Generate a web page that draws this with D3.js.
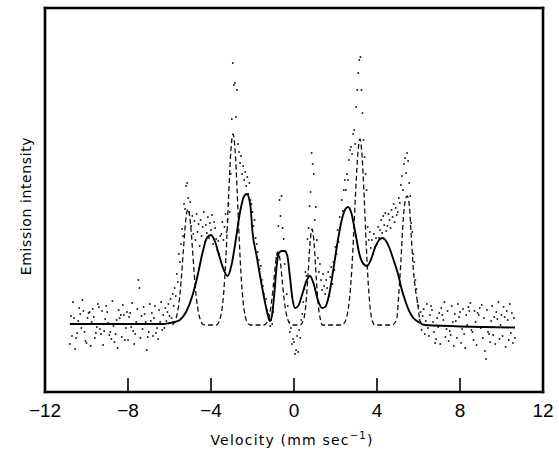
<!DOCTYPE html>
<html>
<head>
<meta charset="utf-8">
<script src="https://cdn.jsdelivr.net/npm/d3@7"></script>
<style>
body { margin: 0; background: #fff; }
svg { display: block; }
</style>
</head>
<body>
<div id="chart"></div>
<script>
// channel velocities: start + i * step (mm/s)
const channelStart = -10.8
const channelStep = 0.05

// measured emission counts per channel (relative to baseline)
const counts = [
  -20, 8, -12, 22, 6, -25, -14, -9, 3, 16,
  10, -4, 24, 13, -8, -17, -19, 6, 11, 12,
  -22, 2, 15, 7, -14, -9, -3, 20, 17, -5,
  -10, 13, -21, -7, 5, 18, 12, 1, -11, -8,
  -15, 23, -2, -18, -10, 4, -24, 14, 6, 9,
  -13, 19, 9, -16, -4, 12, -16, 7, 11, -3,
  21, -7, -20, -10, 2, 15, 44, 36, -14, 8,
  -5, 17, 10, 2, -26, -13, -8, 20, 3, 11,
  -12, 6, 18, -9, -4, -15, 14, 2, 22, -6,
  9, -4, 16, 3, 12, 20, 8,
  25, 6, 30, 18, 36, 28, 50, 42, 70,
  62, 80, 95, 88, 120, 115, 138, 141, 126, 112,
  122, 98, 108, 90, 103, 84, 110, 92, 100, 78,
  104, 88, 97, 112, 82, 99, 91, 107, 86, 101,
  94, 109, 80, 102, 96, 85, 74, 83, 70, 88,
  90, 102, 84, 97, 110, 92, 104, 120, 112, 150,
  205, 261, 239, 241, 207, 234, 180, 172, 161, 168,
  150, 158, 144, 152, 138, 147, 130, 141, 124, 120,
  112, 98, 104, 86, 80, 72, 64, 55, 58, 44,
  38, 30, 22, 25, 14, 10, 6, -2, 4, 0,
  12, 28, 40, 66, 70, 98, 124, 108, 128, 96,
  85, 60, 72, 30, 18, 2, -8, -4, -20, -15,
  -18, -30, -26, -12, -28, -6, -14, 4, 10, 22,
  35, 52, 48, 85, 96, 118, 132, 171, 160, 150,
  104, 117, 84, 66, 52, 60, 44, 34, 50, 38,
  30, 44, 36, 52, 28, 47, 57, 40, 62, 54,
  77, 70, 94, 82, 107, 100, 124, 113, 134, 144,
  134, 150, 144, 164, 174, 177, 170, 190, 194, 180,
  217, 234, 251, 264, 267, 234, 211, 184, 167, 150,
  134, 97, 84, 92, 76, 84, 70, 90, 77, 86,
  80, 97, 86, 94, 104, 91, 108, 99, 111, 93,
  98, 110, 104, 96, 114, 107, 120, 102, 116, 109,
  112, 126, 121, 139, 148, 134, 160, 166, 151, 171,
  163, 141, 128, 101, 92, 70, 62, 44, 35, 22,
  18, 4, 12, -6, 8, 15, -10, 3, 20, -4,
  -12, 9, 18, 14, 2, -8, -19, -15, 6, -3,
  11, -20, 16, 9, 4, 22, -13, -5, 13, -17,
  -7, -11, 18, 2, -22, 10, 3, -14, 20, 7,
  12, -19, -5, 15, -10, -24, 9, -1, 17, 13,
  21, -6, -8, -16, 13, 2, -21, 11, 9, 16,
  -4, 19, -14, 6, -27, -35, 14, -8, -10, -18,
  3, 18, -11, 7, -20, 12, 5, 22, -15, -1,
  9, -12, 17, 7, -23, 13, 4, -16, 20, -9,
  11, -19, 6, -14
]

// fitted spectrum [velocity, intensity]
const fitCurve = [
  [-10.8, 0], [-6.3, 0], [-6.0, 1], [-5.75, 2], [-5.5, 4], [-5.2, 12], [-4.9, 28],
  [-4.65, 48], [-4.4, 72], [-4.2, 86], [-4.0, 89], [-3.8, 82], [-3.6, 68], [-3.4, 55],
  [-3.2, 48], [-3.0, 60], [-2.8, 85], [-2.6, 112], [-2.4, 128], [-2.27, 130], [-2.1, 118],
  [-2.0, 92], [-1.8, 68], [-1.6, 44], [-1.4, 22], [-1.25, 8], [-1.16, 3], [-1.05, 10],
  [-0.95, 30], [-0.85, 55], [-0.75, 70], [-0.6, 73], [-0.45, 73], [-0.32, 68], [-0.2, 48],
  [-0.08, 26], [0.05, 16], [0.2, 18], [0.4, 30], [0.6, 43], [0.77, 48], [0.95, 40],
  [1.15, 24], [1.35, 16], [1.5, 17], [1.7, 30], [1.9, 55], [2.1, 82], [2.3, 104],
  [2.45, 114], [2.6, 117], [2.75, 112], [2.95, 92], [3.15, 70], [3.35, 60], [3.52, 58],
  [3.7, 64], [3.9, 76], [4.1, 84], [4.25, 86], [4.4, 84], [4.6, 76], [4.8, 64],
  [5.0, 51], [5.2, 34], [5.35, 24], [5.55, 13], [5.75, 6], [6.0, 2], [6.3, -1], [10.65, -3.5]
]

// single-site component lines [velocity, intensity]
const componentCurve = [
  [-5.85, -1], [-5.71, 4], [-5.61, 12], [-5.51, 27], [-5.41, 51], [-5.31, 80], [-5.21, 105],
  [-5.11, 115], [-5.01, 105], [-4.91, 80], [-4.81, 51], [-4.71, 27], [-4.61, 12], [-4.51, 4],
  [-4.41, 0], [-4.3, -1],
  [-3.75, -1], [-3.64, 1], [-3.54, 7], [-3.44, 20], [-3.34, 45], [-3.24, 85], [-3.14, 133],
  [-3.04, 174], [-2.94, 190], [-2.84, 174], [-2.74, 133], [-2.64, 85], [-2.54, 45],
  [-2.44, 20], [-2.34, 7], [-2.24, 1], [-2.1, -1],
  [-1.45, -1], [-1.37, 0], [-1.27, 3], [-1.17, 10], [-1.07, 24], [-0.97, 44], [-0.87, 64],
  [-0.77, 72], [-0.67, 64], [-0.57, 44], [-0.47, 24], [-0.37, 10], [-0.27, 3], [-0.17, 0],
  [-0.05, -1],
  [0.3, -1], [0.47, 5], [0.57, 19], [0.67, 47], [0.77, 80], [0.87, 95], [0.97, 80],
  [1.07, 47], [1.17, 19], [1.27, 5], [1.37, -1],
  [2.3, -1], [2.38, 0], [2.48, 3], [2.58, 11], [2.68, 26], [2.78, 53], [2.88, 92],
  [2.98, 136], [3.08, 171], [3.18, 185], [3.28, 168], [3.38, 128], [3.48, 80], [3.58, 40],
  [3.68, 14], [3.78, 3], [3.88, -1],
  [4.75, -1], [4.85, 1], [4.95, 5], [5.05, 30], [5.15, 62], [5.25, 100], [5.35, 122],
  [5.45, 128], [5.55, 120], [5.65, 88], [5.75, 55], [5.85, 35], [5.95, 22], [6.05, 6],
  [6.15, 0], [6.22, -1]
]

const xTicks = [-12, -8, -4, 0, 4, 8, 12]

const width = 559
const height = 452
const margin = ({ top: 8, right: 16, bottom: 60, left: 45 })

const x = d3.scaleLinear()
  .domain([-12, 12])
  .range([margin.left, width - margin.right])

const y = d3.scaleLinear()
  .domain([-68, 316])
  .range([height - margin.bottom, margin.top])

const svg = d3.select("#chart")
  .append("svg")
  .attr("width", width)
  .attr("height", height)

const points = counts.map((c, i) => [channelStart + i * channelStep, c])

// data dots
svg.append("g")
  .attr("fill", "#000")
  .selectAll("rect")
  .data(points)
  .join("rect")
  .attr("x", d => x(d[0]) - 0.8)
  .attr("y", d => y(d[1]) - 0.8)
  .attr("width", 1.6)
  .attr("height", 1.6)

const line = d3.line()
  .x(d => x(d[0]))
  .y(d => y(d[1]))
  .curve(d3.curveMonotoneX)

svg.append("path")
  .datum(componentCurve)
  .attr("fill", "none")
  .attr("stroke", "#111")
  .attr("stroke-width", 1.3)
  .attr("stroke-dasharray", "5,3")
  .attr("d", line)

svg.append("path")
  .datum(fitCurve)
  .attr("fill", "none")
  .attr("stroke", "#000")
  .attr("stroke-width", 1.9)
  .attr("d", line)

// frame: four separate sides
const x0 = x(-12), x1 = x(12)
const yTop = margin.top, yBot = height - margin.bottom
const sides = [
  [x0, yTop, x1, yTop],
  [x1, yTop, x1, yBot],
  [x0, yBot, x1, yBot],
  [x0, yTop, x0, yBot]
]
svg.append("g")
  .attr("stroke", "#000")
  .attr("stroke-width", 2.6)
  .attr("stroke-linecap", "square")
  .selectAll("line")
  .data(sides)
  .join("line")
  .attr("x1", d => d[0])
  .attr("y1", d => d[1])
  .attr("x2", d => d[2])
  .attr("y2", d => d[3])

// inner ticks
svg.append("g")
  .attr("stroke", "#000")
  .attr("stroke-width", 1.6)
  .selectAll("line")
  .data(xTicks.slice(1, -1))
  .join("line")
  .attr("x1", d => x(d))
  .attr("x2", d => x(d))
  .attr("y1", yBot)
  .attr("y2", yBot - 14)

svg.append("g")
  .attr("font-family", "'Liberation Sans', Arial, sans-serif")
  .attr("font-size", 19)
  .attr("text-anchor", "middle")
  .selectAll("text")
  .data(xTicks)
  .join("text")
  .attr("x", d => x(d))
  .attr("y", 417)
  .text(d => d3.format("d")(d))

const xTitle = svg.append("text")
  .attr("x", 292)
  .attr("y", 445)
  .attr("text-anchor", "middle")
  .attr("font-family", "'DejaVu Sans', sans-serif")
  .attr("font-size", 14)
  .attr("letter-spacing", 1.2)
xTitle.append("tspan").text("Velocity (mm sec")
xTitle.append("tspan").attr("dy", -6).attr("font-size", 10).text("−1")
xTitle.append("tspan").attr("dy", 6).text(")")

svg.append("text")
  .attr("transform", "translate(31,206) rotate(-90)")
  .attr("text-anchor", "middle")
  .attr("font-family", "'DejaVu Sans', sans-serif")
  .attr("font-size", 14)
  .attr("letter-spacing", 0.6)
  .text("Emission intensity")
</script>
</body>
</html>
